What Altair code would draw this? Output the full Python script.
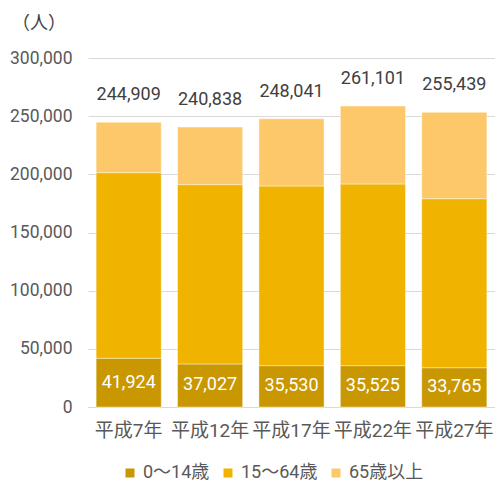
import altair as alt
import pandas as pd

years = ["平成7年", "平成12年", "平成17年", "平成22年", "平成27年"]
groups = ["0～14歳", "15～64歳", "65歳以上"]
age_0_14 = [41924, 37027, 35530, 35525, 33765]
age_15_64 = [159500, 154100, 154450, 156200, 145300]
age_65 = [43300, 49500, 57700, 67000, 74200]
totals = [244909, 240838, 248041, 261101, 255439]
colors = ["#C99700", "#F0B300", "#FDC86A"]

FONT = "Roboto, Noto Sans CJK JP, sans-serif"

rows = []
for i, y in enumerate(years):
    for g, vals in zip(groups, [age_0_14, age_15_64, age_65]):
        rows.append({"year": y, "group": g, "value": vals[i], "order": groups.index(g)})
df = pd.DataFrame(rows)

tot_df = pd.DataFrame({
    "year": years,
    "value": [a + b + c for a, b, c in zip(age_0_14, age_15_64, age_65)],
    "label": [f"{t:,}" for t in totals],
})
low_df = pd.DataFrame({
    "year": years,
    "value": [v / 2 for v in age_0_14],
    "label": [f"{v:,}" for v in age_0_14],
})

x_axis = alt.Axis(labelAngle=0, labelFontSize=19, labelColor="#595959",
                  labelFont=FONT, ticks=False, domainColor="#D9D9D9",
                  labelPadding=14)
y_axis = alt.Axis(values=[0, 50000, 100000, 150000, 200000, 250000, 300000],
                  labelExpr="format(datum.value, ',')",
                  labelFontSize=17.5, labelColor="#595959",
                  labelFont=FONT, ticks=False, domain=False,
                  gridColor="#D9D9D9", labelPadding=16)
x_scale = alt.Scale(paddingInner=0.2, paddingOuter=0.1)
y_scale = alt.Scale(domain=[0, 300000])


def xe():
    return alt.X("year:N", sort=years, title=None, scale=x_scale, axis=x_axis)


bars = alt.Chart(df).mark_bar(stroke="#FFFFFF", strokeWidth=0.7, strokeOpacity=0.6).encode(
    x=xe(),
    y=alt.Y("value:Q", stack="zero", title=None, scale=y_scale, axis=y_axis),
    color=alt.Color("group:N", sort=groups,
                    scale=alt.Scale(domain=groups, range=colors),
                    legend=alt.Legend(title=None, orient="none", direction="horizontal",
                                      legendX=33, legendY=406, symbolType="square",
                                      symbolSize=81, symbolStrokeWidth=0,
                                      labelFontSize=18, labelColor="#595959",
                                      labelFont=FONT, columnPadding=9, labelOffset=4)),
    order=alt.Order("order:Q", sort="ascending"),
)

top_text = alt.Chart(tot_df).mark_text(dy=-27, fontSize=18, color="#404040", font=FONT).encode(
    x=xe(),
    y=alt.Y("value:Q", title=None, scale=y_scale, axis=y_axis),
    text="label:N",
)

low_text = alt.Chart(low_df).mark_text(fontSize=18, color="#FFFFFF", font=FONT).encode(
    x=xe(),
    y=alt.Y("value:Q", title=None, scale=y_scale, axis=y_axis),
    text="label:N",
)

unit = alt.Chart(pd.DataFrame({"t": ["（人）"]})).mark_text(
    fontSize=18, color="#404040", font=FONT).encode(
    text="t:N", x=alt.value(-49), y=alt.value(-34))

chart = alt.layer(bars, top_text, low_text, unit).properties(
    width=407, height=349,
    autosize=alt.AutoSizeParams(type="none"),
    padding={"left": 88, "top": 58, "right": 0, "bottom": 74},
).configure_view(stroke=None)

chart.save("out.html", embed_options={"renderer": "svg", "actions": False})
